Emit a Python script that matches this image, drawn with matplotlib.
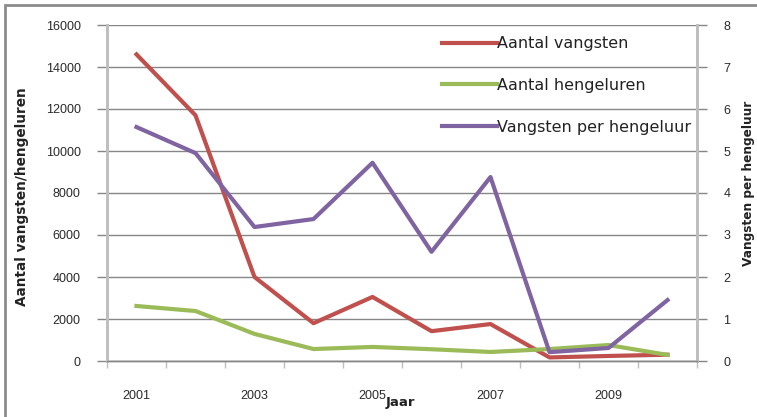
import matplotlib
matplotlib.use("Agg")
import matplotlib.pyplot as plt
from matplotlib.patches import Rectangle
from matplotlib.ticker import FixedLocator, NullFormatter, FixedFormatter

plt.rcParams["font.family"] = ["Liberation Sans", "DejaVu Sans"]

# Data
jaren = ["2001", "2002", "2003", "2004", "2005", "2006", "2007", "2008", "2009", "2010"]
aantal_vangsten = [14600, 11700, 4000, 1800, 3050, 1420, 1760, 170, 240, 300]
aantal_hengeluren = [2620, 2380, 1290, 570, 670, 560, 430, 570, 760, 290]
vangsten_per_hengeluur = [5.57, 4.95, 3.19, 3.38, 4.72, 2.60, 4.38, 0.21, 0.31, 1.45]

ROOD = "#C0504D"
GROEN = "#9BBB59"
PAARS = "#8064A2"
AS_KLEUR = "#BFBFBF"
GRID_KLEUR = "#868686"
TEKST = "#222222"

fig = plt.figure(figsize=(7.57, 4.17), dpi=100)
ax = fig.add_axes([107 / 757, 1 - 361 / 417, 590 / 757, 336 / 417])
ax2 = ax.twinx()

x = list(range(len(jaren)))
l1, = ax.plot(x, aantal_vangsten, color=ROOD, lw=3.0, label="Aantal vangsten")
l2, = ax.plot(x, aantal_hengeluren, color=GROEN, lw=3.0, label="Aantal hengeluren")
l3, = ax2.plot(x, vangsten_per_hengeluur, color=PAARS, lw=3.0, label="Vangsten per hengeluur")

ax.set_zorder(ax2.get_zorder() - 1)
ax2.patch.set_visible(False)

ax.set_xlim(-0.5, len(jaren) - 0.5)
ax.set_ylim(0, 16000)
ax2.set_ylim(0, 8)
ax.set_yticks(range(0, 16001, 2000))
ax2.set_yticks(range(0, 9))

# tickmarks tussen de categorieen, labels om de twee jaar
ax.xaxis.set_major_locator(FixedLocator([i - 0.5 for i in range(len(jaren) + 1)]))
ax.xaxis.set_major_formatter(NullFormatter())
ax.xaxis.set_minor_locator(FixedLocator(x[::2]))
ax.xaxis.set_minor_formatter(FixedFormatter(jaren[::2]))
ax.tick_params(axis="x", which="major", length=5, width=1, color=AS_KLEUR, direction="out")
ax.tick_params(axis="x", which="minor", length=0, pad=21, labelsize=9, labelcolor="#2a2a2a")

ax.tick_params(axis="y", length=7, width=1, color=GRID_KLEUR, pad=12, labelsize=9, labelcolor="#2a2a2a")
ax2.tick_params(axis="y", length=7, width=1, color=GRID_KLEUR, pad=12, labelsize=9, labelcolor="#2a2a2a")

ax.grid(True, axis="y", color=GRID_KLEUR, lw=1)
ax.set_axisbelow(True)

for a in (ax, ax2):
    a.spines["top"].set_visible(False)
    a.spines["left"].set_color(AS_KLEUR)
    a.spines["left"].set_linewidth(2)
    a.spines["right"].set_color(AS_KLEUR)
    a.spines["right"].set_linewidth(2)
    a.spines["bottom"].set_color(GRID_KLEUR)
    a.spines["bottom"].set_linewidth(1)

ax.set_ylabel("Aantal vangsten/hengeluren", fontsize=9.8, fontweight="bold", color=TEKST,
              family="DejaVu Sans")
ax.yaxis.set_label_coords(-0.132, 0.49)
ax2.set_ylabel("Vangsten per hengeluur", fontsize=8.7, fontweight="bold", color=TEKST,
               family="DejaVu Sans")
ax2.yaxis.set_label_coords(1.077, 0.53)
ax.set_xlabel("Jaar", fontsize=9.5, fontweight="bold", color=TEKST, family="DejaVu Sans")
ax.xaxis.set_label_coords(0.497, -0.105)

leg = ax2.legend(handles=[l1, l2, l3], loc="upper left", bbox_to_anchor=(0.548, 1.0),
                 frameon=False, prop={"family": "DejaVu Sans", "size": 11.5},
                 labelspacing=1.68, handlelength=3.5, handletextpad=0.0, borderaxespad=0.3)
for t in leg.get_texts():
    t.set_color(TEKST)

# kader rond de grafiek
fig.patches.append(Rectangle((5 / 757, -0.05), 1.1, 1 - 5 / 417 + 0.05, transform=fig.transFigure,
                             fill=False, edgecolor="#8C8C8C", lw=2, clip_on=False))

fig.savefig("out.png", dpi=100)
